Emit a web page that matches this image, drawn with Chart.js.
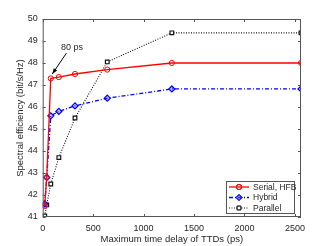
<!DOCTYPE html>
<html>
<head>
<meta charset="utf-8">
<script src="https://cdn.jsdelivr.net/npm/chart.js@4.4.1/dist/chart.umd.min.js"></script>
<style>
  html, body { margin: 0; padding: 0; background: #fff; }
  canvas { display: block; }
</style>
</head>
<body>
<canvas id="seChart" width="332" height="246"></canvas>
<script>
// values
const delays = [20, 40, 80, 160, 320, 640, 1280, 2560];
const serialHfb = [41.5, 42.8, 47.3, 47.36, 47.5, 47.7, 48.0, 48.0];
const hybrid = [41.6, 42.8, 45.6, 45.8, 46.05, 46.4, 46.82, 46.82];
const parallel = [41.05, 41.55, 42.5, 43.7, 45.5, 48.05, 49.37, 49.37];
const seriesNames = ['Serial, HFB', 'Hybrid', 'Parallel'];
const xTicks = [0, 500, 1000, 1500, 2000, 2500];
const yTicks = [41, 42, 43, 44, 45, 46, 47, 48, 49, 50];
const noteText = '80 ps';

const FONT = '"Liberation Sans", Arial, sans-serif';
const AXIS = '#555';
const TXT = '#262626';

const pts = (ys) => delays.map((d, i) => ({ x: d, y: ys[i] }));

// box, inward ticks, arrow note and legend
const figureExtras = {
    id: 'figureExtras',
    afterDatasetsDraw(chart) {
        const { ctx, chartArea: a, scales: { x, y } } = chart;
        ctx.save();
        ctx.strokeStyle = AXIS;
        ctx.lineWidth = 1;
        ctx.strokeRect(a.left + 0.5, a.top + 0.5, a.right - a.left - 1, a.bottom - a.top - 1);
        ctx.beginPath();
        xTicks.forEach(v => {
            const px = Math.round(x.getPixelForValue(v)) + 0.5;
            ctx.moveTo(px, a.bottom); ctx.lineTo(px, a.bottom - 3);
            ctx.moveTo(px, a.top); ctx.lineTo(px, a.top + 3);
        });
        yTicks.forEach(v => {
            const py = Math.round(y.getPixelForValue(v)) + 0.5;
            ctx.moveTo(a.left, py); ctx.lineTo(a.left + 3, py);
            ctx.moveTo(a.right, py); ctx.lineTo(a.right - 3, py);
        });
        ctx.stroke();

        // "80 ps" arrow
        const tx = x.getPixelForValue(290), ty = y.getPixelForValue(48.72);
        const x0 = x.getPixelForValue(235), y0 = y.getPixelForValue(48.45);
        const x1 = x.getPixelForValue(95), y1 = y.getPixelForValue(47.5);
        ctx.fillStyle = TXT;
        ctx.font = '9px ' + FONT;
        ctx.textAlign = 'center';
        ctx.textBaseline = 'middle';
        ctx.fillText(noteText, tx, ty);
        ctx.strokeStyle = '#000';
        ctx.beginPath();
        ctx.moveTo(x0, y0); ctx.lineTo(x1, y1);
        ctx.stroke();
        const ang = Math.atan2(y1 - y0, x1 - x0);
        ctx.fillStyle = '#000';
        ctx.beginPath();
        ctx.moveTo(x1, y1);
        ctx.lineTo(x1 - 6 * Math.cos(ang - 0.35), y1 - 6 * Math.sin(ang - 0.35));
        ctx.lineTo(x1 - 6 * Math.cos(ang + 0.35), y1 - 6 * Math.sin(ang + 0.35));
        ctx.closePath();
        ctx.fill();

        // legend box inside the plot
        const lx = 226, ly = 181, lw = 68, lh = 32;
        ctx.fillStyle = '#fff';
        ctx.fillRect(lx, ly, lw, lh);
        ctx.strokeStyle = AXIS;
        ctx.strokeRect(lx + 0.5, ly + 0.5, lw, lh);
        chart.data.datasets.forEach((ds, i) => {
            const cy = ly + 6 + i * 10.5;
            ctx.strokeStyle = ds.borderColor;
            ctx.lineWidth = ds.borderWidth;
            ctx.setLineDash(ds.borderDash || []);
            ctx.beginPath();
            ctx.moveTo(lx + 3, cy); ctx.lineTo(lx + 23, cy);
            ctx.stroke();
            ctx.setLineDash([]);
            ctx.lineWidth = 1;
            ctx.fillStyle = ds.pointBackgroundColor;
            ctx.strokeStyle = ds.borderColor;
            Chart.helpers.drawPoint(ctx, { pointStyle: ds.pointStyle, radius: ds.pointRadius, borderWidth: 1 }, lx + 13, cy);
            ctx.fill();
            ctx.stroke();
            ctx.fillStyle = TXT;
            ctx.font = '8.5px ' + FONT;
            ctx.textAlign = 'left';
            ctx.fillText(seriesNames[i], lx + 27, cy + 0.5);
        });
        ctx.restore();
    }
};

new Chart(document.getElementById('seChart'), {
    type: 'scatter',
    data: {
        datasets: [
            { label: seriesNames[0], data: pts(serialHfb), showLine: true, borderColor: '#ff0000', borderWidth: 1.3,
              pointStyle: 'circle', pointRadius: 2.6, pointBorderWidth: 1, pointBackgroundColor: 'rgba(255,255,255,0)' },
            { label: seriesNames[1], data: pts(hybrid), showLine: true, borderColor: '#0000ff', borderWidth: 1.3, borderDash: [4, 2, 1, 2],
              pointStyle: 'rectRot', pointRadius: 3, pointBorderWidth: 1.2, pointBackgroundColor: 'rgba(80,80,255,0.35)' },
            { label: seriesNames[2], data: pts(parallel), showLine: true, borderColor: '#111', borderWidth: 1.1, borderDash: [1, 1.5],
              pointStyle: 'rect', pointRadius: 2.6, pointBorderWidth: 1.2, pointBackgroundColor: '#fff' }
        ]
    },
    options: {
        responsive: false,
        animation: false,
        layout: { padding: { left: 0, top: 19, right: 31, bottom: 0 } },
        plugins: { legend: { display: false }, tooltip: { enabled: false } },
        scales: {
            x: {
                type: 'linear', min: 0, max: 2560,
                afterBuildTicks: (s) => { s.ticks = xTicks.map(v => ({ value: v })); },
                afterFit: (s) => { s.height = 29; },
                grid: { display: false, drawTicks: false, tickLength: 0 }, border: { display: false },
                ticks: { color: TXT, font: { family: FONT, size: 9 }, padding: 6, maxRotation: 0,
                         callback: (v) => String(v) },
                title: { display: true, text: 'Maximum time delay of TTDs (ps)', color: TXT,
                         font: { family: FONT, size: 9.5 }, padding: { top: 0, bottom: 1 } }
            },
            y: {
                type: 'linear', min: 41, max: 50,
                afterBuildTicks: (s) => { s.ticks = yTicks.map(v => ({ value: v })); },
                afterFit: (s) => { s.width = 42.7; },
                grid: { display: false, drawTicks: false, tickLength: 0 }, border: { display: false },
                ticks: { color: TXT, font: { family: FONT, size: 9 }, padding: 5,
                         callback: (v) => String(v) },
                title: { display: true, text: 'Spectral efficiency (bit/s/Hz)', color: TXT,
                         font: { family: FONT, size: 9.5 }, padding: { top: 15, bottom: 0 } }
            }
        }
    },
    plugins: [figureExtras]
});
</script>
</body>
</html>
